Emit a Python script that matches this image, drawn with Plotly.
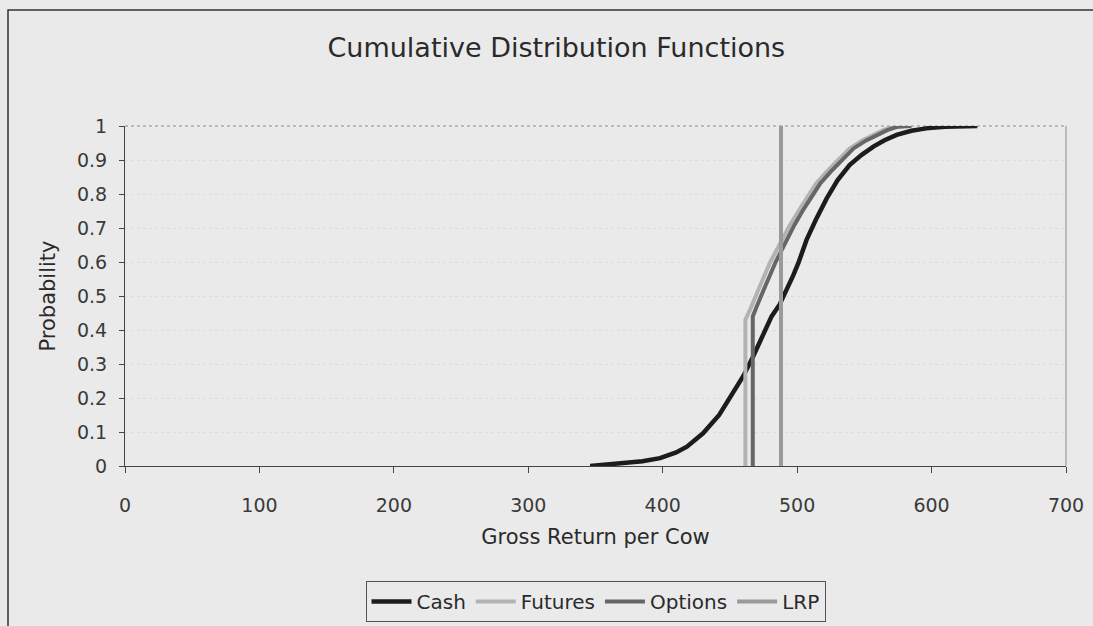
import plotly.graph_objects as go

# ---- data ----
cash_x = [346, 360, 373, 385, 398, 410, 418, 430, 442, 452, 460, 467, 474, 481, 487,
          492, 497, 501, 507, 514, 522, 530, 539, 548, 557, 565, 574, 585, 596, 610, 621, 634]
cash_y = [0.000, 0.004, 0.008, 0.014, 0.023, 0.040, 0.057, 0.096, 0.150, 0.212, 0.265, 0.320,
          0.380, 0.440, 0.475, 0.515, 0.560, 0.598, 0.665, 0.725, 0.787, 0.840, 0.885, 0.915,
          0.940, 0.958, 0.974, 0.986, 0.993, 0.998, 1.000, 1.000]

futures_x = [461.5, 461.5, 465, 469, 474, 480, 487, 494.7, 501, 507, 514, 522, 530, 539,
             548, 556.7, 564, 571.6, 580]
futures_y = [0.0, 0.43, 0.46, 0.50, 0.545, 0.60, 0.655, 0.709, 0.75, 0.787, 0.83, 0.866,
             0.90, 0.934, 0.957, 0.974, 0.988, 0.998, 1.0]

options_x = [467, 467, 470, 473, 478, 484, 491, 498, 504, 510, 517, 525, 533, 542, 551,
             559, 567, 575, 585]
options_y = [0.0, 0.44, 0.47, 0.50, 0.545, 0.60, 0.655, 0.709, 0.75, 0.787, 0.83, 0.866,
             0.90, 0.934, 0.957, 0.974, 0.988, 0.998, 1.0]

lrp_x = [488, 488]
lrp_y = [0.0, 1.0]

x_ticks = [0, 100, 200, 300, 400, 500, 600, 700]
y_ticks = [0, 0.1, 0.2, 0.3, 0.4, 0.5, 0.6, 0.7, 0.8, 0.9, 1]

BG = "#eaeaea"
FONT = "DejaVu Sans"
TXT = "#2a2a2a"

fig = go.Figure()
fig.add_trace(go.Scatter(x=cash_x, y=cash_y, mode="lines", name="Cash",
                         line=dict(color="#1c1c1c", width=4.5)))
fig.add_trace(go.Scatter(x=futures_x, y=futures_y, mode="lines", name="Futures",
                         line=dict(color="#b3b3b3", width=4)))
fig.add_trace(go.Scatter(x=options_x, y=options_y, mode="lines", name="Options",
                         line=dict(color="#666666", width=4)))
fig.add_trace(go.Scatter(x=lrp_x, y=lrp_y, mode="lines", name="LRP",
                         line=dict(color="#9a9a9a", width=4)))

fig.update_layout(
    width=1093, height=626,
    margin=dict(l=125, r=27, t=126, b=160, autoexpand=False),
    paper_bgcolor=BG, plot_bgcolor=BG,
    font=dict(family=FONT, color=TXT, size=19),
    title=dict(text="Cumulative Distribution Functions", x=0.509, xref="container",
               xanchor="center", y=1 - 48 / 626, yref="container", yanchor="middle",
               font=dict(size=27, family=FONT, color=TXT)),
    showlegend=True,
    legend=dict(orientation="h", x=0.5, xanchor="center", y=-0.338, yanchor="top",
                bgcolor=BG, bordercolor="#555555", borderwidth=1,
                font=dict(size=20, family=FONT, color=TXT), itemwidth=40,
                tracegroupgap=0),
    xaxis=dict(range=[0, 700], tickvals=x_ticks, showgrid=False, zeroline=False,
               automargin=False,
               showline=True, linecolor="#444444", linewidth=1,
               ticks="outside", ticklen=6, tickcolor="#444444",
               tickfont=dict(size=19, family=FONT, color="#3a3a3a"),
               ticklabelstandoff=16,
               title=dict(text="Gross Return per Cow", standoff=14,
                          font=dict(size=21, family=FONT, color=TXT))),
    yaxis=dict(range=[0, 1], tickvals=y_ticks, showgrid=True, gridcolor="#dedede",
               griddash="dot", gridwidth=1, zeroline=False,
               automargin=False,
               showline=True, linecolor="#444444", linewidth=1,
               ticks="outside", ticklen=5, tickcolor="#444444",
               tickfont=dict(size=19, family=FONT, color="#3a3a3a"),
               ticklabelstandoff=8,
               title=dict(text="Probability", standoff=15,
                          font=dict(size=21, family=FONT, color=TXT))),
)

# plot-area top and right edges
fig.add_shape(type="line", xref="paper", yref="paper", x0=0, x1=1, y0=1, y1=1,
              line=dict(color="#8a8a8a", width=1, dash="dot"), layer="below")
fig.add_shape(type="line", xref="paper", yref="paper", x0=1, x1=1, y0=0, y1=1,
              line=dict(color="#8a8a8a", width=1), layer="below")
# outer chart border
fig.add_shape(type="rect", xref="paper", yref="paper",
              x0=(8 - 125) / 941, x1=(1100 - 125) / 941,
              y0=(466 - 640) / 340, y1=(466 - 10) / 340,
              line=dict(color="#333333", width=1.5), fillcolor="rgba(0,0,0,0)")

fig.write_html("out.html", config={"displayModeBar": False},
               post_script="document.body.style.margin='0';")
